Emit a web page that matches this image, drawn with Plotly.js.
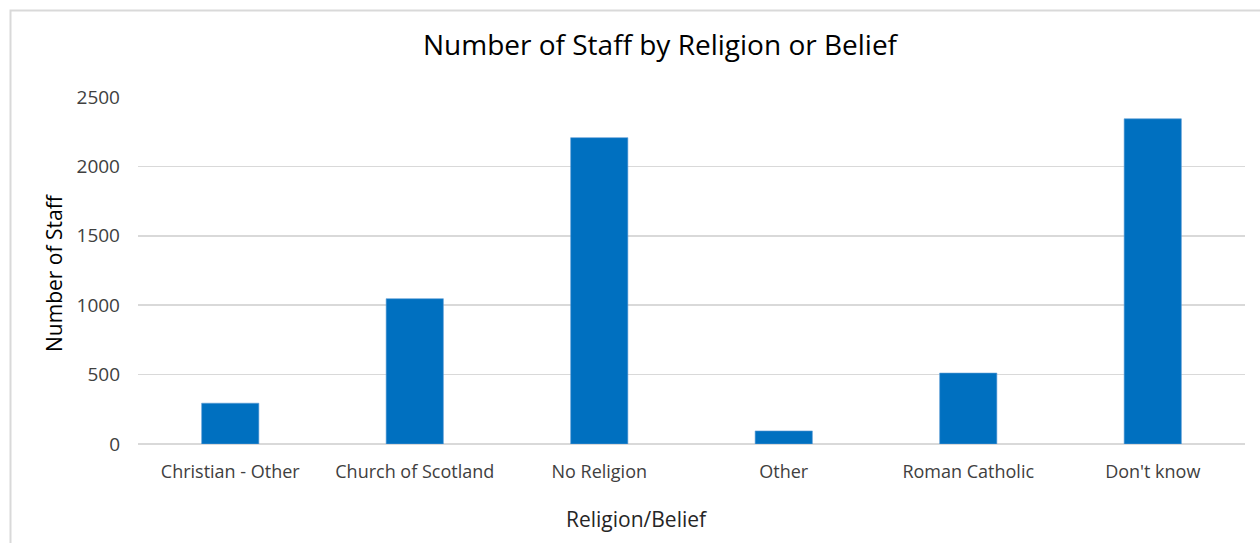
<!DOCTYPE html>
<html>
<head>
<meta charset="utf-8">
<script src="https://cdn.plot.ly/plotly-3.0.1.min.js"></script>
<style>
  html, body { margin: 0; padding: 0; background: #ffffff; overflow: hidden; }
  #chart { width: 1260px; height: 543px; }
</style>
</head>
<body>
<div id="chart"></div>
<script>
const categories = ["Christian - Other", "Church of Scotland", "No Religion", "Other", "Roman Catholic", "Don't know"];
const staffCounts = [294, 1047, 2207, 94, 511, 2343];
const chartTitle = "Number of Staff by Religion or Belief";
const xTitle = "Religion/Belief";
const yTitle = "Number of Staff";
const captionText = "Chart 6";

const W = 1260, H = 543;
const L = 138, R = 15, T = 97, B = 99;
const pw = W - L - R, ph = H - T - B;
const px = v => (v - L) / pw;
const py = v => (H - B - v) / ph;

const FONT = "Open Sans, Noto Sans, sans-serif";

const trace = {
  type: "bar",
  x: categories,
  y: staffCounts,
  marker: { color: "#0070c0", line: { color: "#5b9bd5", width: 0.6 } },
  width: 0.31,
  hoverinfo: "x+y"
};

const layout = {
  width: W, height: H,
  margin: { l: L, r: R, t: T, b: B, pad: 0 },
  paper_bgcolor: "#ffffff",
  plot_bgcolor: "#ffffff",
  showlegend: false,
  font: { family: FONT, color: "#404040", size: 18 },
  title: {
    text: chartTitle,
    font: { family: FONT, size: 28, color: "#000000" },
    x: 660 / W, xanchor: "center", xref: "container",
    y: 1 - 45 / H, yanchor: "middle", yref: "container"
  },
  xaxis: {
    type: "category",
    showgrid: false,
    showline: false,
    zeroline: false,
    ticks: "",
    ticklabelstandoff: 15,
    tickfont: { family: FONT, size: 18, color: "#404040" }
  },
  yaxis: {
    range: [0, 2500],
    dtick: 500,
    tick0: 0,
    showgrid: true,
    gridcolor: "#d9d9d9",
    gridwidth: 1.5,
    zeroline: true,
    zerolinecolor: "#d9d9d9",
    zerolinewidth: 2,
    showline: false,
    ticks: "",
    ticklabelstandoff: 17,
    tickfont: { family: FONT, size: 19, color: "#404040" },
    fixedrange: true
  },
  bargap: 0.69,
  shapes: [
    {
      type: "rect", xref: "paper", yref: "paper", layer: "below",
      x0: px(10.5), x1: px(1300), y0: py(600), y1: py(10.5),
      line: { color: "#d9d9d9", width: 2 },
      fillcolor: "rgba(0,0,0,0)"
    }
  ],
  annotations: [
    {
      text: captionText, xref: "paper", yref: "paper",
      x: px(13), xanchor: "left",
      y: py(6), yanchor: "bottom",
      showarrow: false,
      font: { family: FONT, size: 24, color: "#000000" }
    },
    {
      text: xTitle, xref: "paper", yref: "paper",
      x: px(637), xanchor: "center",
      y: py(519), yanchor: "middle",
      showarrow: false,
      font: { family: FONT, size: 21, color: "#262626" }
    },
    {
      text: yTitle, xref: "paper", yref: "paper",
      x: px(54), xanchor: "center",
      y: py(273), yanchor: "middle",
      textangle: -90,
      showarrow: false,
      font: { family: FONT, size: 21, color: "#000000" }
    }
  ]
};

Plotly.newPlot("chart", [trace], layout, { displayModeBar: false, staticPlot: true });
</script>
</body>
</html>
